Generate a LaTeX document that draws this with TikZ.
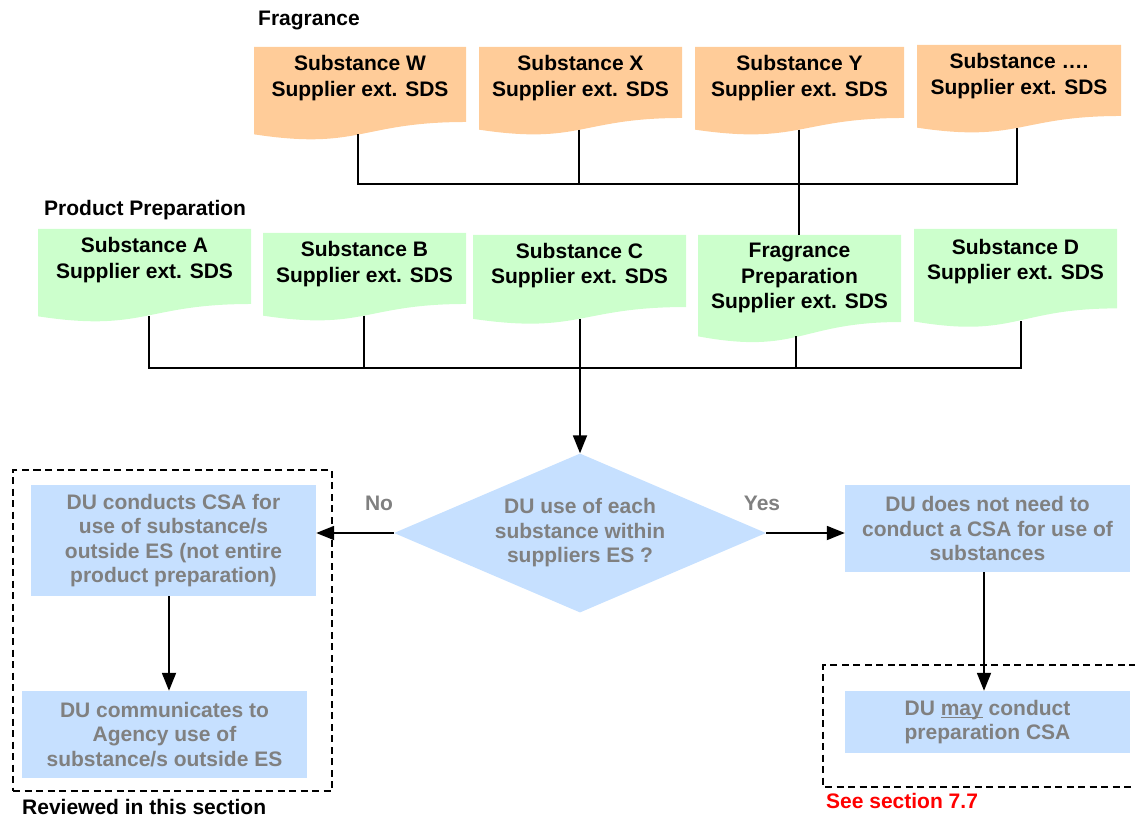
\documentclass[tikz,border=0pt]{standalone}
\usepackage{fontspec}
\setmainfont{Liberation Sans}
\usetikzlibrary{arrows.meta,shapes.geometric}
\definecolor{docorange}{RGB}{255,204,153}
\definecolor{docgreen}{RGB}{204,255,204}
\definecolor{boxblue}{RGB}{198,224,255}
\definecolor{txtgray}{RGB}{128,128,128}
\definecolor{seered}{RGB}{255,0,0}
% #1 name, #2 left x, #3 right x, #4 top y, #5 height, #6 colour, #7 text centre y, #8 text, #9 connector x
\newcommand{\mydoc}[9]{%
  \fill[#6] (#2,#4) -- (#3,#4) -- (#3,{#4+0.802*#5})
    .. controls ({(#2+#3)/2},{#4+0.802*#5}) and ({(#2+#3)/2},{#4+1.107*#5}) .. (#2,{#4+0.934*#5}) -- cycle;
  \node[doctext] (#1) at ({(#2+#3)/2},#7) {#8};
  \coordinate (#1-b) at (#9,{#4+0.933*#5});
  \coordinate (#1-t) at (#9,#4);
}
\newcommand{\myul}[1]{{\setbox0\hbox{#1}\rlap{\rule[-3.2pt]{\wd0}{1.8pt}}\box0}}
\begin{document}
\begin{tikzpicture}[x=1pt,y=-1pt,
  doctext/.style={font=\fontsize{21}{25.5}\selectfont\bfseries, align=center, inner sep=0pt, text=black},
  bluebox/.style={fill=boxblue, text=txtgray, font=\fontsize{21}{24.5}\selectfont\bfseries,
    align=center, inner sep=0pt, minimum width=285pt},
  title/.style={font=\fontsize{21}{25}\selectfont\bfseries, anchor=west, inner sep=0pt},
  glabel/.style={font=\fontsize{21}{25}\selectfont\bfseries, text=txtgray, inner sep=0pt},
  conn/.style={line width=1.8pt, draw=black},
  arr/.style={conn, -{Triangle[length=18pt,width=14pt]}},
  grpline/.style={line width=1.6pt, dash pattern=on 7pt off 4.5pt}
]
\useasboundingbox (0,0) rectangle (1135,821);

% titles
\node[title] (tfrag) at (258,21) {Fragrance};
\node[title] (tprod) at (44,210) {Product Preparation};

% fragrance documents
\mydoc{W}{254}{466}{47}{93.5}{docorange}{78}{Substance W\\Supplier ext. SDS}{358}
\mydoc{X}{479}{682}{47}{88.5}{docorange}{78}{Substance X\\Supplier ext. SDS}{579}
\mydoc{Y}{695}{904}{47}{88.5}{docorange}{78}{Substance Y\\Supplier ext. SDS}{799}
\mydoc{S}{917}{1121}{45}{88.5}{docorange}{76}{Substance ….\\Supplier ext. SDS}{1017}

% product preparation documents
\mydoc{A}{38}{251}{229}{93.5}{docgreen}{260}{Substance A\\Supplier ext. SDS}{149}
\mydoc{B}{263}{466}{233}{88.5}{docgreen}{264}{Substance B\\Supplier ext. SDS}{364}
\mydoc{C}{473}{686}{235}{89.8}{docgreen}{265.5}{Substance C\\Supplier ext. SDS}{580}
\mydoc{FP}{698}{901}{235}{108.5}{docgreen}{278}{Fragrance\\Preparation\\Supplier ext. SDS}{796}
\mydoc{D}{914}{1117}{229}{99}{docgreen}{261.5}{Substance D\\Supplier ext. SDS}{1021}

% junction levels
\coordinate (hO) at (0,184);
\coordinate (hG) at (0,368);

% fragrance connectors
\draw[conn] (W-b) |- (S-b |- hO) -- (S-b);
\draw[conn] (X-b) -- (X-b |- hO);
\draw[conn] (Y-b) -- (Y-b |- FP-t);

% product connectors
\draw[conn] (A-b) |- (D-b |- hG) -- (D-b);
\draw[conn] (B-b) -- (B-b |- hG);
\draw[conn] (FP-b) -- (FP-b |- hG);

% decision
\node[diamond, fill=boxblue, text=txtgray, minimum width=372pt, minimum height=159pt,
  inner sep=0pt, shape aspect=2.34, align=center,
  font=\fontsize{21}{24.5}\selectfont\bfseries] (q) at (580,533)
  {DU use of each\\substance within\\suppliers ES ?};
\draw[arr] (C-b) -- (q.north);

% left branch
\node[grpline, draw, minimum width=319pt, minimum height=321pt, inner sep=0pt] (gL) at (172.5,630.5) {};
\node[bluebox, minimum height=111pt] (b1) at (173.5,540.5)
  {DU conducts CSA for\\use of substance/s\\outside ES (not entire\\product preparation)};
\node[bluebox, minimum height=87pt] (b2) at (164.5,734.5)
  {DU communicates to\\Agency use of\\substance/s outside ES};
\draw[arr] (q.west) -- (q.west -| b1.east);
\draw[arr] ([xshift=-4.5pt]b1.south) -- ([xshift=-4.5pt]b1.south |- b2.north);
\node[glabel] (lno) at (379,503) {No};
\node[title] (lrev) at (22,807) {Reviewed in this section};

% right branch
\node[bluebox, minimum height=87pt] (b3) at (987.5,528.5)
  {DU does not need to\\conduct a CSA for use of\\substances};
\node[bluebox, minimum height=62pt] (b4) at (987.5,722)
  {DU \myul{may} conduct\\preparation CSA};
\draw[arr] (q.east) -- (q.east -| b3.west);
\draw[arr] ([xshift=-3.5pt]b3.south) -- ([xshift=-3.5pt]b3.south |- b4.north);
\node[glabel] (lyes) at (762,503) {Yes};
\coordinate (gR1) at (1136,665);
\coordinate (gR2) at (823,665);
\coordinate (gR3) at (823,787);
\coordinate (gR4) at (1136,787);
\draw[grpline] (gR1) -- (gR2) -- (gR3) -- (gR4);
\node[title, text=seered] (lsee) at (826,801) {See section 7.7};
\end{tikzpicture}
\end{document}
